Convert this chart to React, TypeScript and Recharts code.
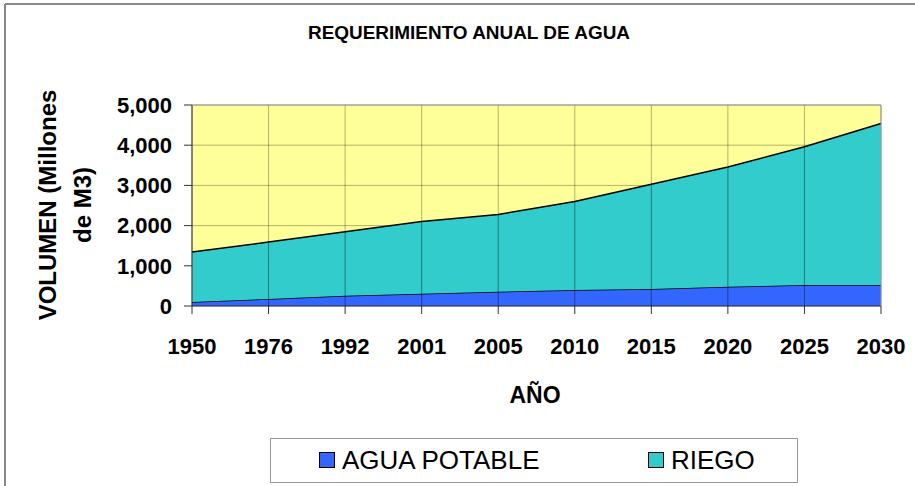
import { Area, AreaChart, CartesianGrid, Legend, XAxis, YAxis } from "recharts"

const years = ["1950", "1976", "1992", "2001", "2005", "2010", "2015", "2020", "2025", "2030"]
const aguaPotable = [100, 175, 255, 305, 355, 395, 420, 480, 520, 520]
const riego = [1244, 1417, 1593, 1799, 1922, 2205, 2608, 2977, 3440, 4018]
const yTicks = [0, 1000, 2000, 3000, 4000, 5000]

const data = years.map((year, i) => ({
  year,
  potable: aguaPotable[i],
  riego: riego[i],
}))

const colors: Record<string, string> = { potable: "#3366FF", riego: "#33CCCC" }
const font = "'Liberation Sans', Arial, sans-serif"

const chartH = 486
const margin = { top: 105, right: 34, bottom: 95, left: 112 }
const legendH = 45
const xAxisH = 40
const plotH = chartH - margin.top - margin.bottom - legendH - xAxisH
const plotBottom = margin.top + plotH

// vertical grid line drawn down from each point of the top series, so it shows over the fills
function GridDot(props: any) {
  const { cx, cy, index } = props
  if (index === 0 || index === years.length - 1 || cx == null || cy == null) return <g />
  return <line x1={cx} x2={cx} y1={cy} y2={plotBottom} stroke="#000" strokeOpacity={0.4} />
}

function LegendBox(props: any) {
  const items = props.payload || []
  return (
    <div
      style={{
        width: 528,
        height: legendH,
        border: "1.5px solid #999",
        background: "#fff",
        boxSizing: "border-box",
        position: "relative",
        fontFamily: font,
        fontSize: 26,
        color: "#000",
      }}
    >
      {items.map((it: any, i: number) => (
        <div
          key={it.value}
          style={{
            position: "absolute",
            left: i === 0 ? 48 : 377,
            top: 6,
            display: "flex",
            alignItems: "center",
            lineHeight: "30px",
          }}
        >
          <span
            style={{
              width: 14,
              height: 14,
              background: colors[it.dataKey] || it.color,
              border: "1.5px solid #000",
              marginRight: 7,
              display: "inline-block",
            }}
          />
          {it.value}
        </div>
      ))}
    </div>
  )
}

export default function App() {
  return (
    <div style={{ position: "absolute", left: 0, top: 0, width: 915, height: 486, background: "#fff" }}>
      <AreaChart width={915} height={chartH} data={data} margin={margin}>
        <CartesianGrid fill="#FFFF99" stroke="#000" strokeOpacity={0.3} />
        <Area
          type="linear"
          dataKey="potable"
          name="AGUA POTABLE"
          stackId="a"
          fill={colors.potable}
          fillOpacity={1}
          stroke="#000"
          strokeWidth={1.5}
          isAnimationActive={false}
        />
        <Area
          type="linear"
          dataKey="riego"
          name="RIEGO"
          stackId="a"
          fill={colors.riego}
          fillOpacity={1}
          stroke="#000"
          strokeWidth={1.5}
          dot={(p: any) => <GridDot key={p.index} {...p} />}
          activeDot={false}
          isAnimationActive={false}
        />
        <XAxis
          dataKey="year"
          height={xAxisH}
          tickSize={8}
          tickMargin={24}
          stroke="#333"
          interval={0}
          tick={{ fill: "#000", fontSize: 22, fontWeight: "bold", fontFamily: font }}
        />
        <YAxis
          width={80}
          domain={[0, 5000]}
          ticks={yTicks}
          tickSize={8}
          tickMargin={12}
          stroke="#333"
          tickFormatter={(v: number) => v.toLocaleString("en-US")}
          tick={{ fill: "#000", fontSize: 22, fontWeight: "bold", fontFamily: font }}
        />
        <Legend
          content={<LegendBox />}
          wrapperStyle={{ position: "absolute", left: 270, top: 438, width: 528, height: legendH }}
        />
      </AreaChart>
      <svg
        width={915}
        height={486}
        style={{ position: "absolute", left: 0, top: 0, pointerEvents: "none" }}
      >
        <line x1={5} y1={4} x2={915} y2={4} stroke="#888" strokeWidth={2} />
        <line x1={5} y1={4} x2={5} y2={486} stroke="#888" strokeWidth={2} />
        <line x1={192} y1={105} x2={881} y2={105} stroke="#999" strokeWidth={1} />
        <line x1={881} y1={105} x2={881} y2={306} stroke="#999" strokeWidth={1} />
        <text
          x={469}
          y={39}
          textAnchor="middle"
          fontFamily={font}
          fontWeight="bold"
          fontSize={19}
          textLength={322}
          lengthAdjust="spacingAndGlyphs"
        >
          REQUERIMIENTO ANUAL DE AGUA
        </text>
        <text
          x={535}
          y={403}
          textAnchor="middle"
          fontFamily={font}
          fontWeight="bold"
          fontSize={23}
        >
          AÑO
        </text>
        <g transform="translate(56,205) rotate(-90)">
          <text x={0} y={0} textAnchor="middle" fontFamily={font} fontWeight="bold" fontSize={24}>
            VOLUMEN (Millones
          </text>
          <text x={0} y={35} textAnchor="middle" fontFamily={font} fontWeight="bold" fontSize={24}>
            de M3)
          </text>
        </g>
      </svg>
    </div>
  )
}
